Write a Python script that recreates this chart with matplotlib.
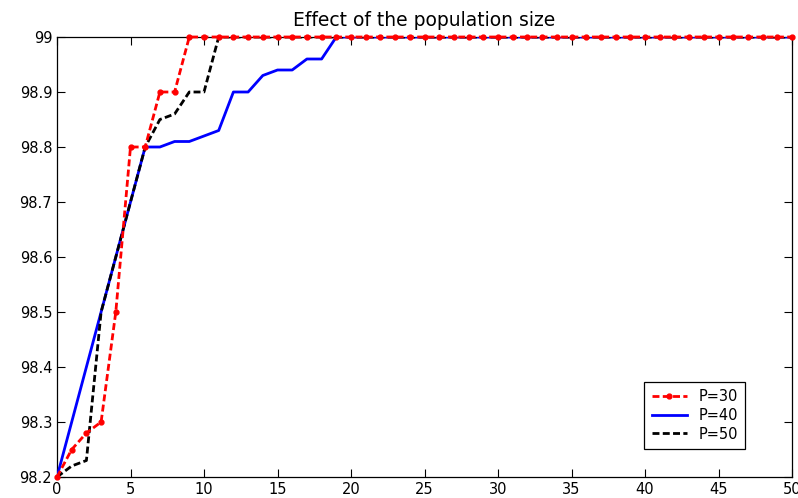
import numpy as np
import matplotlib
matplotlib.use('Agg')
import matplotlib.pyplot as plt
from matplotlib.ticker import FuncFormatter

# generations 0..50
gen = np.arange(51)

# best fitness per generation
p30_head = [98.2, 98.25, 98.28, 98.3, 98.5, 98.8, 98.8, 98.9, 98.9, 99.0]
p40_head = [98.2, 98.3, 98.4, 98.5, 98.6, 98.7, 98.8, 98.8, 98.81, 98.81,
            98.82, 98.83, 98.9, 98.9, 98.93, 98.94, 98.94, 98.96, 98.96, 99.0]
p50_head = [98.2, 98.22, 98.23, 98.5, 98.6, 98.7, 98.8, 98.85, 98.86, 98.9,
            98.9, 99.0]

def pad(head):
    return head + [99.0] * (len(gen) - len(head))

p30 = pad(p30_head)
p40 = pad(p40_head)
p50 = pad(p50_head)

labels = ['P=30', 'P=40', 'P=50']

plt.rcParams['font.family'] = 'DejaVu Sans'
plt.rcParams['font.size'] = 10.5

fig = plt.figure(figsize=(7.98, 4.98), dpi=100)
ax = fig.add_axes([57 / 798, 1 - 477 / 498, 735 / 798, 440 / 498])

ax.plot(gen, p30, color='red', lw=2, ls='--', dashes=(2.5, 1.2),
        marker='o', markersize=3.5, label=labels[0], clip_on=False, zorder=4)
ax.plot(gen, p40, color='blue', lw=2, label=labels[1], zorder=3)
ax.plot(gen, p50, color='black', lw=2, ls='--', dashes=(2.5, 1.2),
        label=labels[2], zorder=3)

ax.set_xlim(0, 50)
ax.set_ylim(98.2, 99)
ax.set_xticks(np.arange(0, 51, 5))
ax.set_yticks(np.round(np.arange(98.2, 99.01, 0.1), 1))
ax.yaxis.set_major_formatter(FuncFormatter(lambda v, p: '%g' % round(v, 1)))
ax.tick_params(direction='in', length=6, width=0.8, top=True, right=True,
               labelsize=10.5, colors='black')
for s in ax.spines.values():
    s.set_linewidth(0.9)

ax.set_title('Effect of the population size', fontsize=13.5, pad=8)

leg = ax.legend(loc='upper left', bbox_to_anchor=(0.799, 0.216),
                borderaxespad=0, fancybox=False, edgecolor='black',
                framealpha=1, numpoints=1, handlelength=2.4,
                handletextpad=0.8, labelspacing=0.25, borderpad=0.5)
leg.get_frame().set_linewidth(0.9)

fig.savefig('out.png', dpi=100)
